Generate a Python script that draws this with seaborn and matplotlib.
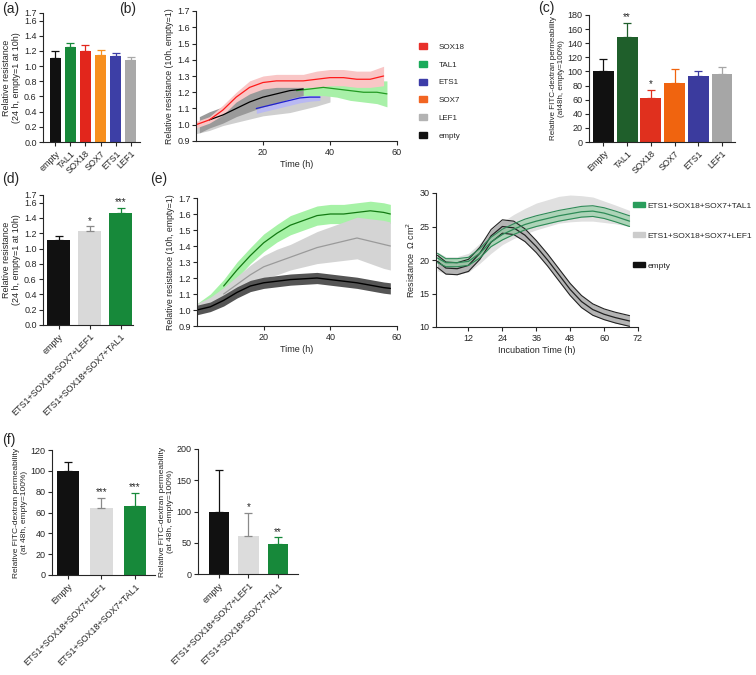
import pandas as pd
import matplotlib
matplotlib.use("Agg")
import matplotlib.pyplot as plt
from matplotlib.patches import Patch
import seaborn as sns

# ---------------- data ----------------
# (a) relative resistance at 24 h
a_labels = ["empty", "TAL1", "SOX18", "SOX7", "ETS1", "LEF1"]
a_values = [1.11, 1.25, 1.20, 1.15, 1.13, 1.08]
a_errors = [0.085, 0.05, 0.08, 0.06, 0.04, 0.035]
a_colors = ["#111111", "#17893a", "#e2261c", "#f7901e", "#3d3fa6", "#a9a9a9"]

# (c) FITC-dextran permeability at 48 h
c_labels = ["Empty", "TAL1", "SOX18", "SOX7", "ETS1", "LEF1"]
c_values = [100, 149, 62, 84, 93, 96]
c_errors = [17, 20, 12, 19, 8, 11]
c_colors = ["#111111", "#1f5f2b", "#e0301e", "#f0640f", "#3b3b9e", "#a6a6a6"]
c_stars = ["", "**", "*", "", "", ""]

# (d) combinations, relative resistance at 24 h
d_labels = ["empty", "ETS1+SOX18+SOX7+LEF1", "ETS1+SOX18+SOX7+TAL1"]
d_values = [1.11, 1.23, 1.47]
d_errors = [0.05, 0.06, 0.06]
d_colors = ["#111111", "#d9d9d9", "#17893a"]
d_stars = ["", "*", "***"]

# (f) combinations, FITC-dextran permeability
f1_labels = ["Empty", "ETS1+SOX18+SOX7+LEF1", "ETS1+SOX18+SOX7+TAL1"]
f1_values = [100, 64, 66.5]
f1_errors = [8.5, 10, 12.5]
f1_stars = ["", "***", "***"]
f2_labels = ["empty", "ETS1+SOX18+SOX7+LEF1", "ETS1+SOX18+SOX7+TAL1"]
f2_values = [100, 61, 47.5]
f2_errors = [67, 37, 11]
f2_stars = ["", "*", "**"]
f_colors = ["#111111", "#dcdcdc", "#17893a"]

# (b) time courses of single factors (mean, half band width)
b_sox18_t = [0, 4, 8, 12, 16, 20, 24, 28, 32, 36, 40, 44, 48, 52, 56]
b_sox18 = [1.00, 1.03, 1.09, 1.17, 1.23, 1.26, 1.27, 1.27, 1.27, 1.28, 1.29, 1.29, 1.28, 1.28, 1.30]
b_sox18_sd = [0.02, 0.02, 0.03, 0.03, 0.04, 0.04, 0.04, 0.04, 0.04, 0.05, 0.05, 0.05, 0.05, 0.05, 0.06]
b_empty_t = [1, 4, 8, 12, 16, 20, 24, 28, 32]
b_empty = [1.00, 1.03, 1.06, 1.10, 1.14, 1.17, 1.19, 1.21, 1.22]
b_empty_sd = [0.05, 0.05, 0.05, 0.05, 0.06, 0.06, 0.06, 0.05, 0.04]
b_lef1_t = [0, 4, 8, 12, 16, 20, 24, 28, 32, 36, 40]
b_lef1 = [0.98, 1.00, 1.03, 1.05, 1.07, 1.09, 1.10, 1.11, 1.13, 1.15, 1.17]
b_lef1_sd = [0.035, 0.035, 0.035, 0.035, 0.035, 0.035, 0.035, 0.035, 0.035, 0.035, 0.03]
b_ets1_t = [18, 20, 24, 28, 31, 34, 37]
b_ets1 = [1.10, 1.11, 1.13, 1.15, 1.165, 1.17, 1.17]
b_ets1_sd = [0.03, 0.03, 0.03, 0.03, 0.03, 0.025, 0.02]
b_tal1_t = [30, 34, 38, 42, 46, 50, 54, 57]
b_tal1 = [1.21, 1.22, 1.23, 1.22, 1.21, 1.20, 1.20, 1.19]
b_tal1_sd = [0.03, 0.04, 0.05, 0.05, 0.06, 0.06, 0.07, 0.08]
b_legend = ["SOX18", "TAL1", "ETS1", "SOX7", "LEF1", "empty"]
b_legend_colors = ["#e8302a", "#1aab5a", "#3c3ca8", "#f26522", "#b3b3b3", "#111111"]

# (e) left: combinations, relative resistance
e1_t = [0, 4, 8, 12, 16, 20, 24, 28, 32, 36, 40, 44, 48, 52, 56, 58]
e1_empty = [1.00, 1.02, 1.06, 1.11, 1.15, 1.17, 1.18, 1.19, 1.195, 1.20, 1.19, 1.18, 1.17, 1.155, 1.14, 1.135]
e1_empty_sd = [0.03, 0.03, 0.035, 0.035, 0.035, 0.035, 0.035, 0.035, 0.035, 0.035, 0.035, 0.035, 0.035, 0.035, 0.035, 0.035]
e1_lef1 = [1.02, 1.05, 1.10, 1.16, 1.22, 1.27, 1.30, 1.33, 1.36, 1.39, 1.41, 1.43, 1.45, 1.43, 1.41, 1.40]
e1_lef1_sd = [0.02, 0.03, 0.04, 0.05, 0.06, 0.07, 0.08, 0.08, 0.09, 0.10, 0.11, 0.12, 0.13, 0.14, 0.15, 0.15]
e1_tal1 = [1.02, 1.07, 1.15, 1.25, 1.34, 1.42, 1.48, 1.53, 1.56, 1.59, 1.60, 1.60, 1.61, 1.62, 1.61, 1.60]
e1_tal1_sd = [0.02, 0.03, 0.04, 0.05, 0.05, 0.055, 0.055, 0.06, 0.06, 0.06, 0.06, 0.06, 0.06, 0.06, 0.06, 0.06]

# (e) right: absolute resistance (Ohm cm2)
e2_t = [1, 4, 8, 12, 16, 20, 24, 28, 32, 36, 40, 44, 48, 52, 56, 60, 64, 69]
e2_empty = [19.8, 18.8, 18.7, 19.2, 21.0, 23.6, 25.0, 24.8, 23.7, 22.0, 20.0, 17.8, 15.6, 13.8, 12.6, 11.9, 11.4, 10.9]
e2_empty_sd = [0.9, 0.9, 0.9, 0.9, 0.9, 0.95, 1.0, 1.0, 0.95, 0.9, 0.9, 0.9, 0.9, 0.9, 0.85, 0.8, 0.8, 0.8]
e2_tal1 = [20.3, 19.6, 19.6, 19.8, 21.0, 22.7, 23.8, 24.6, 25.3, 25.8, 26.2, 26.6, 26.9, 27.2, 27.3, 27.0, 26.5, 25.8]
e2_tal1_sd = [0.7, 0.6, 0.6, 0.6, 0.7, 0.7, 0.8, 0.8, 0.8, 0.8, 0.8, 0.8, 0.8, 0.8, 0.8, 0.8, 0.8, 0.8]
e2_lef1 = [19.8, 19.2, 19.2, 19.6, 21.0, 22.6, 24.0, 25.0, 25.8, 26.5, 27.0, 27.5, 27.7, 27.7, 27.6, 27.2, 26.8, 26.2]
e2_lef1_sd = [1.4, 1.3, 1.3, 1.4, 1.5, 1.6, 1.7, 1.8, 1.9, 2.0, 2.0, 2.0, 2.0, 1.9, 1.8, 1.6, 1.4, 1.2]
e2_legend = ["ETS1+SOX18+SOX7+TAL1", "ETS1+SOX18+SOX7+LEF1", "empty"]
e2_legend_colors = ["#2a9d5c", "#cccccc", "#111111"]

# ---------------- style ----------------
sns.set_style("ticks")
plt.rcParams["font.family"] = ["Liberation Sans", "DejaVu Sans"]
plt.rcParams["axes.linewidth"] = 0.8
plt.rcParams["xtick.major.width"] = 0.8
plt.rcParams["ytick.major.width"] = 0.8
plt.rcParams["xtick.major.size"] = 3
plt.rcParams["ytick.major.size"] = 3
plt.rcParams["xtick.major.pad"] = 2
plt.rcParams["ytick.major.pad"] = 1.5
plt.rcParams["xtick.labelsize"] = 6.5
plt.rcParams["ytick.labelsize"] = 6.5

W, H = 756, 675
fig = plt.figure(figsize=(W / 100, H / 100), dpi=100)


def place(x0, y0, x1, y1):
    # axes from pixel box (top-left origin)
    return fig.add_axes([x0 / W, 1 - y1 / H, (x1 - x0) / W, (y1 - y0) / H])


def bar_panel(ax, labels, values, errors, colors, width, xlim, ylim, yticks,
              stars=None, ylabel="", ylsize=6):
    sns.barplot(x=labels, y=values, hue=labels, palette=colors, legend=False,
                width=width, saturation=1, linewidth=0, errorbar=None, ax=ax)
    for i, (v, e, col) in enumerate(zip(values, errors, colors)):
        ecol = "#8a8a8a" if col in ("#d9d9d9", "#dcdcdc") else col
        ax.errorbar(i, v, yerr=[[0], [e]], fmt="none", ecolor=ecol,
                    elinewidth=0.9, capsize=3, capthick=0.9, zorder=1)
        if stars and stars[i]:
            ax.text(i, v + e + (ylim[1] - ylim[0]) * 0.005, stars[i],
                    ha="center", va="bottom", fontsize=7)
    ax.set_xlim(*xlim)
    ax.set_ylim(*ylim)
    ax.set_yticks(yticks)
    ax.set_ylabel(ylabel, fontsize=ylsize, labelpad=2)
    ax.set_xlabel("")
    ax.set_xticks(range(len(labels)))
    ax.set_xticklabels(labels, rotation=45, ha="right", rotation_mode="anchor")
    sns.despine(ax=ax)


def band(ax, t, mean, sd, line_color, fill_color, edge=None, line=True, start=0, lw=0.9):
    lo = [m - s for m, s in zip(mean, sd)]
    hi = [m + s for m, s in zip(mean, sd)]
    ax.fill_between(t, lo, hi, color=fill_color, lw=0)
    if edge:
        sns.lineplot(x=t, y=lo, color=edge, lw=0.8, ax=ax)
        sns.lineplot(x=t, y=hi, color=edge, lw=0.8, ax=ax)
    if line:
        sns.lineplot(x=t[start:], y=mean[start:], color=line_color, lw=lw, ax=ax)


# ---------------- (a) ----------------
ax = place(43, 13, 140, 142)
bar_panel(ax, a_labels, a_values, a_errors, a_colors, 0.72, (-0.8, 5.6), (0, 1.7),
          [0, 0.2, 0.4, 0.6, 0.8, 1.0, 1.2, 1.4, 1.6, 1.7],
          ylabel="Relative resistance\n(24 h, empty=1 at 10h)", ylsize=6.5)

# ---------------- (b) ----------------
ax = place(196, 11, 397, 141)
band(ax, b_lef1_t, b_lef1, b_lef1_sd, "#c8c8c8", "#cfcfcf", line=False)
band(ax, b_ets1_t, b_ets1, b_ets1_sd, "#2020d0", "#b9b9f2")
band(ax, b_tal1_t, b_tal1, b_tal1_sd, "#239a23", "#a8f0a8")
band(ax, b_empty_t, b_empty, b_empty_sd, "#000000", "#9a9a9a", start=1)
band(ax, b_sox18_t, b_sox18, b_sox18_sd, "#ff1a1a", "#f9c6c6")
ax.set_xlim(0, 60)
ax.set_ylim(0.9, 1.7)
ax.set_xticks([20, 40, 60])
ax.set_yticks([0.9, 1.0, 1.1, 1.2, 1.3, 1.4, 1.5, 1.6, 1.7])
ax.set_xlabel("Time (h)", fontsize=6.5, labelpad=2)
ax.set_ylabel("Relative resistance (10h, empty=1)", fontsize=6.3, labelpad=2)
sns.despine(ax=ax)
fig.legend(handles=[Patch(color=c) for c in b_legend_colors], labels=b_legend,
           loc="upper left", bbox_to_anchor=(419 / W, 1 - 43 / H), frameon=False,
           fontsize=5.8, handlelength=0.95, handleheight=0.75, handletextpad=1.5,
           labelspacing=1.25, borderaxespad=0, borderpad=0)

# ---------------- (c) ----------------
ax = place(589, 15, 735, 142)
bar_panel(ax, c_labels, c_values, c_errors, c_colors, 0.88, (-0.61, 5.55), (0, 180),
          list(range(0, 181, 20)), stars=c_stars,
          ylabel="Relative FITC-dextran permeability\n(at48h, empty=100%)", ylsize=5.8)

# ---------------- (d) ----------------
ax = place(43, 195, 133, 325)
bar_panel(ax, d_labels, d_values, d_errors, d_colors, 0.72, (-0.5, 2.4), (0, 1.7),
          [0, 0.2, 0.4, 0.6, 0.8, 1.0, 1.2, 1.4, 1.6, 1.7], stars=d_stars,
          ylabel="Relative resistance\n(24 h, empty=1 at 10h)", ylsize=6.5)

# ---------------- (e) left ----------------
ax = place(197, 198, 397, 326)
band(ax, e1_t, e1_tal1, e1_tal1_sd, "#137a13", "#a6f2a6", start=2)
band(ax, e1_t, e1_lef1, e1_lef1_sd, "#9a9a9a", "#d4d4d4", start=2)
band(ax, e1_t, e1_empty, e1_empty_sd, "#000000", "#555555", lw=1.0)
ax.set_xlim(0, 60)
ax.set_ylim(0.9, 1.7)
ax.set_xticks([20, 40, 60])
ax.set_yticks([0.9, 1.0, 1.1, 1.2, 1.3, 1.4, 1.5, 1.6, 1.7])
ax.set_xlabel("Time (h)", fontsize=6.5, labelpad=2)
ax.set_ylabel("Relative resistance (10h, empty=1)", fontsize=6.3, labelpad=2)
sns.despine(ax=ax)

# ---------------- (e) right ----------------
ax = place(436, 193, 638, 327)
band(ax, e2_t, e2_lef1, e2_lef1_sd, "#cccccc", "#e0e0e0", line=False)
band(ax, e2_t, e2_empty, e2_empty_sd, "#222222", "#b4b4b4", edge="#222222")
band(ax, e2_t, e2_tal1, e2_tal1_sd, "#2e8b57", (0.55, 0.80, 0.62, 0.6), edge="#2e8b57")
ax.set_xlim(0.5, 72)
ax.set_ylim(10, 30)
ax.set_xticks([12, 24, 36, 48, 60, 72])
ax.set_yticks([10, 15, 20, 25, 30])
ax.set_xlabel("Incubation Time (h)", fontsize=6.5, labelpad=2)
ax.set_ylabel("Resistance  \u03a9 cm$^2$", fontsize=6.5, labelpad=2)
sns.despine(ax=ax)
fig.legend(handles=[Patch(color=c) for c in e2_legend_colors], labels=e2_legend,
           loc="upper left", bbox_to_anchor=(633 / W, 1 - 202 / H), frameon=False,
           fontsize=6, handlelength=1.45, handleheight=0.6, handletextpad=0.25,
           labelspacing=2.7, borderaxespad=0, borderpad=0)

# ---------------- (f) ----------------
ax = place(52, 450, 155, 575)
bar_panel(ax, f1_labels, f1_values, f1_errors, f_colors, 0.66, (-0.48, 2.6), (0, 120),
          list(range(0, 121, 20)), stars=f1_stars,
          ylabel="Relative FITC-dextran permeability\n(at 48h, empty=100%)")

ax = place(198, 449, 298, 574)
bar_panel(ax, f2_labels, f2_values, f2_errors, f_colors, 0.7, (-0.71, 2.68), (0, 200),
          [0, 50, 100, 150, 200], stars=f2_stars,
          ylabel="Relative FITC-dextran permeability\n(at 48h, empty=100%)")

# panel letters
for lab, x, y in [("(a)", 2, 2), ("(b)", 119, 2), ("(c)", 538, 1), ("(d)", 2, 172),
                  ("(e)", 150, 172), ("(f)", 2, 433)]:
    fig.text(x / W, 1 - y / H, lab, fontsize=10, va="top", ha="left")

fig.savefig("out.png", dpi=100)
